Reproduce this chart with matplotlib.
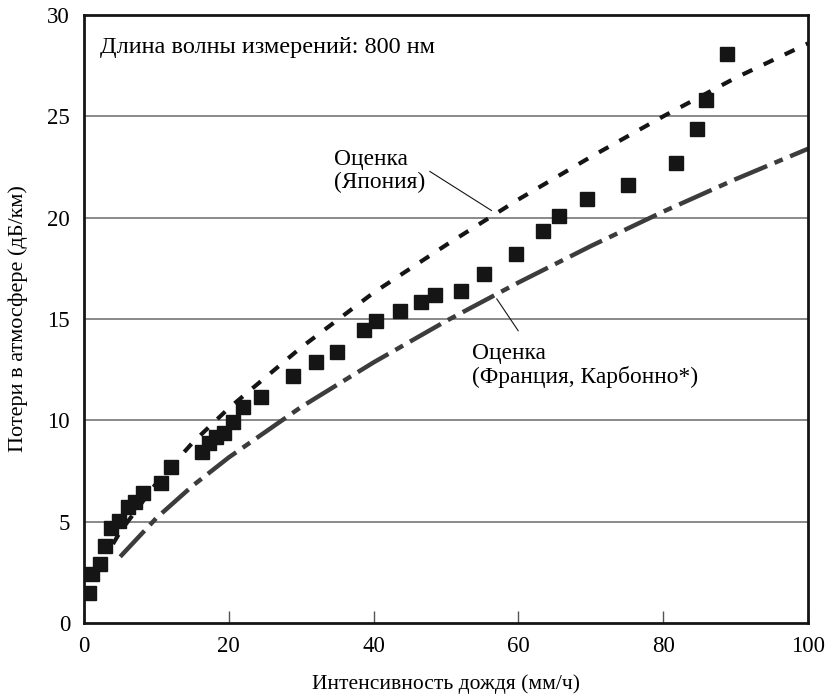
import matplotlib.pyplot as plt

plt.rcParams['font.family'] = ['Liberation Serif', 'DejaVu Serif']

# измеренные точки
rain_meas = [0.7, 1.1, 2.2, 2.9, 3.8, 4.9, 6.1, 7.0, 8.1, 10.6, 12.0, 16.3, 17.3, 18.3,
             19.3, 20.6, 22.0, 24.4, 28.8, 32.1, 35.0, 38.7, 40.3, 43.6, 46.5, 48.5,
             52.1, 55.2, 59.7, 63.4, 65.6, 69.5, 75.2, 81.8, 84.7, 85.9, 88.8]
loss_meas = [1.5, 2.4, 2.9, 3.8, 4.7, 5.05, 5.74, 5.98, 6.4, 6.9, 7.7, 8.45, 8.87, 9.2,
             9.36, 9.93, 10.64, 11.15, 12.2, 12.9, 13.35, 14.45, 14.9, 15.4, 15.85, 16.2,
             16.4, 17.2, 18.2, 19.35, 20.1, 20.9, 21.6, 22.7, 24.4, 25.8, 28.1]

# оценка (Япония)
rain_jp = [4, 5, 10, 15, 20, 30, 40, 50, 60, 70, 80, 90, 100]
loss_jp = [3.9, 4.5, 6.9, 8.9, 10.6, 13.6, 16.3, 18.65, 20.9, 23.0, 25.0, 26.9, 28.6]

# оценка (Франция, Карбонно)
rain_fr = [5, 10, 15, 20, 30, 40, 50, 60, 70, 80, 90, 100]
loss_fr = [3.27, 5.18, 6.77, 8.17, 10.66, 12.86, 14.9, 16.8, 18.6, 20.3, 21.9, 23.4]

fig = plt.figure(figsize=(8.29, 6.99), dpi=100)
ax = fig.add_axes([0.1013, 0.1087, 0.8734, 0.8698])

for yv in [5, 10, 15, 20, 25]:
    ax.axhline(yv, color='#808080', lw=1.3, zorder=1)

ax.plot(rain_fr, loss_fr, color='#3c3c3c', lw=3.2, dashes=(8, 1.8, 2, 1.8), zorder=2)
ax.plot(rain_jp, loss_jp, color='#151515', lw=3.0, dashes=(2.6, 3.0), zorder=3)
ax.plot(rain_meas, loss_meas, 's', color='#151515', ms=9.5, zorder=4)

ax.set_xlim(0, 100)
ax.set_ylim(0, 30)
ax.set_xticks([0, 20, 40, 60, 80, 100])
ax.set_yticks([0, 5, 10, 15, 20, 25, 30])
ax.tick_params(axis='x', direction='in', length=9, width=1, color='#555555',
               labelsize=16.5, pad=9)
ax.tick_params(axis='y', length=0, labelsize=16.5, pad=10)
for s in ax.spines.values():
    s.set_linewidth(2)
    s.set_color('#151515')

ax.set_xlabel('Интенсивность дождя (мм/ч)', fontsize=15.5, labelpad=13)
ax.set_ylabel('Потери в атмосфере (дБ/км)', fontsize=16, labelpad=14)

ax.text(2.2, 28.4, 'Длина волны измерений: 800 нм', fontsize=17.5, va='center')

ax.annotate('Оценка\n(Япония)', xy=(56.3, 20.35), xytext=(34.6, 22.3),
            fontsize=16.8, va='center', ha='left', linespacing=1.15,
            arrowprops=dict(arrowstyle='-', color='#151515', lw=0.8,
                            shrinkA=1, shrinkB=0, relpos=(1.0, 0.55)))
ax.annotate('Оценка\n(Франция, Карбонно*)', xy=(57.0, 16.0), xytext=(53.6, 12.7),
            fontsize=16.8, va='center', ha='left', linespacing=1.15,
            arrowprops=dict(arrowstyle='-', color='#151515', lw=0.8,
                            shrinkA=8, shrinkB=0, relpos=(0.24, 1.0)))

fig.savefig('out.png', dpi=100)
